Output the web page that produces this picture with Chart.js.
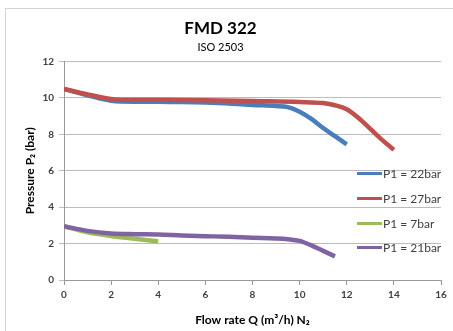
<!DOCTYPE html>
<html lang="en">
  <head>
    <meta charset="UTF-8" />
    <script src="https://cdn.jsdelivr.net/npm/chart.js"></script>
    <title>FMD 322</title>
    <style>
      body { margin: 0; background: #fff; }
      #wrap { position: relative; width: 453px; height: 331px; overflow: hidden; }
      #frame { position: absolute; left: 5px; top: 8px; width: 600px; height: 400px; border: 1px solid #d4d4d4; }
      #legenda { position: absolute; left: 357px; top: 0; font: 12px Lato, sans-serif; color: #404040; }
      .item { position: absolute; left: 0; white-space: nowrap; display: flex; align-items: center; height: 16px; }
      .item span.linha { display: inline-block; width: 25px; height: 3px; margin-right: 1px; }
    </style>
  </head>
  <body>
    <div id="wrap">
      <div id="frame"></div>
      <canvas id="grafico" width="453" height="331"></canvas>
      <div id="legenda"></div>
    </div>
  </body>
  <script>
    // dados
    const nomes = ["P1 = 22bar", "P1 = 27bar", "P1 = 7bar", "P1 = 21bar"];
    const cores = ["#4a7ebb", "#c0504d", "#9bbb59", "#8064a2"];

    const vazao22 = [0, 1, 2, 3, 4, 5, 6, 7, 8, 9, 9.5, 10, 10.5, 11, 11.5, 12];
    const pressao22 = [10.5, 10.15, 9.85, 9.8, 9.8, 9.78, 9.75, 9.7, 9.62, 9.56, 9.5, 9.25, 8.85, 8.35, 7.9, 7.45];

    const vazao27 = [0, 1, 2, 3, 4, 6, 8, 10, 11, 11.5, 12, 12.5, 13, 13.5, 14];
    const pressao27 = [10.5, 10.2, 9.95, 9.9, 9.9, 9.88, 9.83, 9.78, 9.72, 9.6, 9.38, 8.9, 8.3, 7.7, 7.15];

    const vazao7 = [0, 1, 2, 3, 4];
    const pressao7 = [2.95, 2.62, 2.42, 2.27, 2.13];

    const vazao21 = [0, 1, 2, 3, 4, 5, 6, 7, 8, 9, 9.5, 10, 10.5, 11, 11.5];
    const pressao21 = [2.95, 2.7, 2.56, 2.52, 2.5, 2.45, 2.41, 2.37, 2.32, 2.28, 2.24, 2.15, 1.9, 1.6, 1.3];

    function pontos(xs, ys) {
      return xs.map((x, i) => ({ x: x, y: ys[i] }));
    }

    const series = [
      pontos(vazao22, pressao22),
      pontos(vazao27, pressao27),
      pontos(vazao7, pressao7),
      pontos(vazao21, pressao21),
    ];

    const fonte = "Lato, 'Open Sans', sans-serif";

    new Chart(document.getElementById("grafico"), {
      type: "line",
      data: {
        datasets: series.map((d, i) => ({
          label: nomes[i],
          data: d,
          borderColor: cores[i],
          backgroundColor: cores[i],
          borderWidth: 4.5,
          pointRadius: 0,
          cubicInterpolationMode: "monotone",
          order: 4 - i,
        })),
      },
      options: {
        responsive: false,
        animation: false,
        layout: { padding: { left: 0, right: 12, top: 0, bottom: 0 } },
        plugins: {
          legend: { display: false },
          tooltip: { enabled: false },
          title: {
            display: true,
            text: "FMD 322",
            color: "#000",
            font: { family: fonte, size: 17, weight: "bold" },
            padding: { top: 18, bottom: 2 },
          },
          subtitle: {
            display: true,
            text: "ISO 2503",
            color: "#000",
            font: { family: fonte, size: 11 },
            padding: { top: 0, bottom: 8 },
          },
        },
        scales: {
          x: {
            type: "linear",
            min: 0,
            max: 16,
            afterFit: (s) => { s.height = 51; },
            ticks: { stepSize: 2, color: "#404040", font: { family: fonte, size: 10, weight: "bold" }, padding: 4 },
            grid: { display: true, drawOnChartArea: false, tickLength: 5, color: "#999" },
            border: { color: "#999" },
            title: {
              display: true,
              text: "Flow rate Q (m³/h) N₂",
              color: "#000",
              font: { family: fonte, size: 12, weight: "bold" },
              padding: { top: 1 },
            },
          },
          y: {
            min: 0,
            max: 12,
            afterFit: (s) => { s.width = 64; },
            ticks: { stepSize: 2, color: "#404040", font: { family: fonte, size: 10, weight: "bold" }, padding: 5 },
            grid: { color: "#bcbcbc", tickLength: 5 },
            border: { color: "#999" },
            title: {
              display: true,
              text: "Pressure P₂ (bar)",
              color: "#000",
              font: { family: fonte, size: 12, weight: "bold" },
              padding: { top: 23, bottom: 2 },
            },
          },
        },
      },
    });

    // legenda em html por cima da area do grafico
    const legenda = document.getElementById("legenda");
    const topos = [165, 190, 215, 239];
    nomes.forEach((n, i) => {
      const div = document.createElement("div");
      div.className = "item";
      div.style.top = topos[i] + "px";
      div.innerHTML = '<span class="linha" style="background:' + cores[i] + '"></span>' + n;
      legenda.appendChild(div);
    });
  </script>
</html>
